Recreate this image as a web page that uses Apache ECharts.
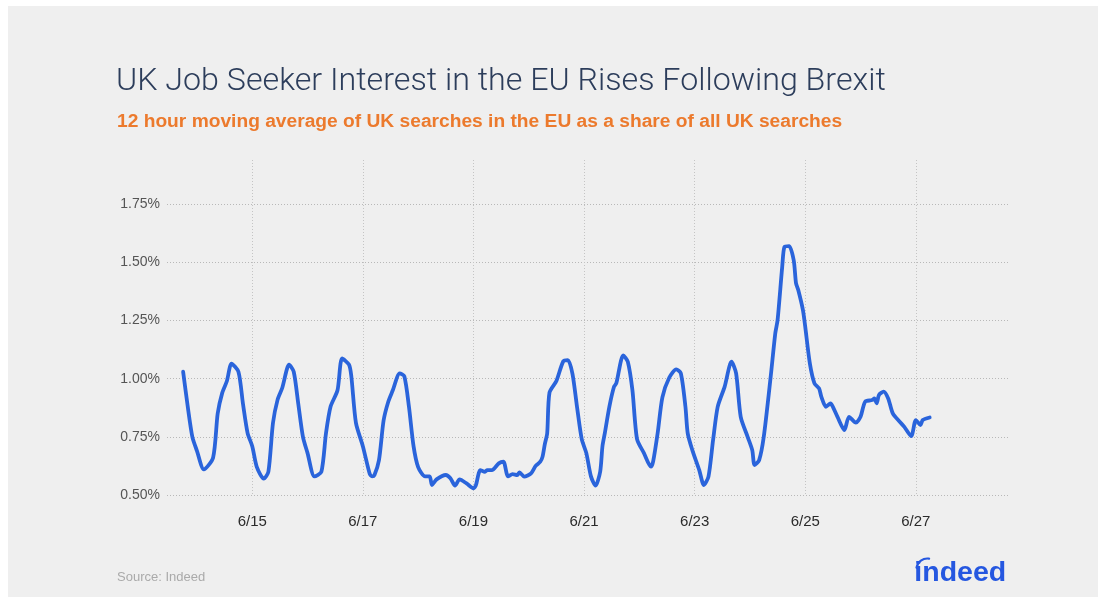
<!DOCTYPE html>
<html>
<head>
<meta charset="utf-8">
<title>UK Job Seeker Interest in the EU Rises Following Brexit</title>
<script src="https://cdn.jsdelivr.net/npm/echarts@6/dist/echarts.min.js"></script>
<style>
  html, body { margin: 0; padding: 0; background: #ffffff; }
  #chart { width: 1106px; height: 605px; }
</style>
</head>
<body>
<div id="chart"></div>
<script>
// Hours elapsed since 13 June 2016, 00:00
const hours = [
  18, 20, 22, 24, 27, 31, 33, 35, 37, 39, 42, 44, 46, 48, 50, 53, 55, 57, 59, 61,
  64, 66, 68, 70, 72, 75, 78, 80, 82, 85, 87, 90, 91, 93, 96, 99, 100, 101, 103, 105,
  107, 109, 112, 114, 116, 118, 120, 123, 125, 126, 128, 132, 134, 136, 138, 141, 144, 145, 147, 149,
  150, 152, 155, 157, 159, 161, 163, 164, 166, 169, 171, 173, 174, 175, 176, 177, 180, 183, 185, 187,
  189, 191, 193, 195, 197, 199, 200, 201, 203, 205, 206, 209, 211, 213, 215, 218, 221, 222, 224, 226,
  229, 232, 234, 236, 237, 239, 242, 244, 246, 248, 250, 253, 256, 258, 260, 263, 265, 266, 268, 270,
  273, 275, 276, 278, 279, 281, 283, 284, 285, 287, 288, 290, 292, 294, 295, 297, 299, 300, 302, 305,
  307, 310, 312, 314, 317, 318, 319, 320, 322, 324, 326, 329, 331, 334, 336, 338, 339, 342
];

// 12 hour moving average of UK searches in the EU, % of all UK searches
const euShare = [
  1.03, 0.88, 0.75, 0.69, 0.61, 0.66, 0.85, 0.94, 0.99, 1.065, 1.03, 0.89, 0.765, 0.71, 0.62, 0.57, 0.60, 0.81, 0.91, 0.96,
  1.06, 1.03, 0.89, 0.75, 0.68, 0.58, 0.60, 0.765, 0.88, 0.95, 1.087, 1.06, 1.01, 0.81, 0.71, 0.59, 0.58, 0.585, 0.65, 0.82,
  0.90, 0.95, 1.023, 1.01, 0.88, 0.71, 0.62, 0.58, 0.58, 0.543, 0.567, 0.586, 0.572, 0.540, 0.567, 0.550, 0.529, 0.54, 0.607, 0.60,
  0.607, 0.607, 0.636, 0.643, 0.58, 0.59, 0.586, 0.597, 0.579, 0.593, 0.625, 0.643, 0.665, 0.72, 0.765, 0.94, 0.99, 1.075, 1.08, 1.02,
  0.875, 0.74, 0.68, 0.58, 0.54, 0.60, 0.71, 0.765, 0.88, 0.965, 0.98, 1.10, 1.073, 0.95, 0.74, 0.68, 0.622, 0.645, 0.77, 0.92,
  1.005, 1.04, 1.023, 0.88, 0.765, 0.693, 0.607, 0.543, 0.579, 0.736, 0.879, 0.965, 1.073, 1.023, 0.836, 0.75, 0.693, 0.629, 0.65, 0.75,
  1.008, 1.195, 1.252, 1.48, 1.567, 1.57, 1.509, 1.41, 1.38, 1.295, 1.223, 1.066, 0.98, 0.958, 0.922, 0.879, 0.894, 0.879, 0.836, 0.779,
  0.836, 0.811, 0.836, 0.901, 0.908, 0.915, 0.894, 0.93, 0.944, 0.915, 0.851, 0.815, 0.793, 0.753, 0.822, 0.801, 0.822, 0.833
];

// Date ticks (midnight of each labelled day) and share ticks
const dateTicks = [48, 96, 144, 192, 240, 288, 336];
const dateTickLabels = ['6/15', '6/17', '6/19', '6/21', '6/23', '6/25', '6/27'];
const shareTicks = [0.5, 0.75, 1.0, 1.25, 1.5, 1.75];

const titleText = 'UK Job Seeker Interest in the EU Rises Following Brexit';
const subtitleText = '12 hour moving average of UK searches in the EU as a share of all UK searches';
const sourceText = 'Source: Indeed';

const seriesData = hours.map((h, i) => [h, euShare[i]]);

const chart = echarts.init(document.getElementById('chart'), null, { renderer: 'canvas' });

chart.setOption({
  animation: false,
  backgroundColor: '#ffffff',
  textStyle: { fontFamily: 'Liberation Sans, Arial, sans-serif' },
  graphic: [
    {
      type: 'rect', z: -10, silent: true,
      shape: { x: 8, y: 6, width: 1090, height: 591 },
      style: { fill: '#efefef' }
    },
    {
      type: 'text', left: 116, top: 66,
      style: {
        text: titleText, fill: '#2c3d5b',
        font: '300 32.2px Roboto, "Liberation Sans", sans-serif'
      }
    },
    {
      type: 'text', left: 117, top: 112,
      style: {
        text: subtitleText, fill: '#ec7a2d',
        font: 'bold 19.2px "Liberation Sans", Arial, sans-serif'
      }
    },
    {
      type: 'text', left: 117, top: 571,
      style: {
        text: sourceText, fill: '#aaaaaa',
        font: '13px "Liberation Sans", Arial, sans-serif'
      }
    },
    {
      type: 'group', left: 914, top: 556,
      children: [
        {
          type: 'text', x: 0, y: 2,
          style: {
            text: 'indeed', fill: '#2557e0',
            font: 'bold 28.5px "Liberation Sans", Arial, sans-serif'
          }
        },
        {
          type: 'arc',
          shape: { cx: 13, cy: 13, r: 11, startAngle: Math.PI * 1.05, endAngle: Math.PI * 1.55 },
          style: { stroke: '#2557e0', lineWidth: 2.2, fill: null, lineCap: 'round' }
        }
      ]
    }
  ],
  grid: { left: 167, right: 98, top: 160, bottom: 110 },
  xAxis: {
    type: 'value',
    min: 11,
    max: 376,
    axisLine: { show: false },
    axisTick: { show: false, customValues: dateTicks },
    axisLabel: {
      customValues: dateTicks,
      formatter: (v) => dateTickLabels[dateTicks.indexOf(v)] || '',
      color: '#2b2b2b',
      fontSize: 15,
      margin: 19
    },
    splitLine: {
      show: true,
      lineStyle: { color: '#c4c4c4', type: [1, 2], width: 1 }
    }
  },
  yAxis: {
    type: 'value',
    min: 0.5,
    max: 1.94,
    axisLine: { show: false },
    axisTick: { show: false, customValues: shareTicks },
    axisLabel: {
      customValues: shareTicks,
      formatter: (v) => v.toFixed(2) + '%',
      color: '#555555',
      fontSize: 14,
      margin: 7
    },
    splitLine: {
      show: true,
      lineStyle: { color: '#b8b8b8', type: [1, 2], width: 1 }
    }
  },
  series: [
    {
      type: 'line',
      data: seriesData,
      showSymbol: false,
      symbol: 'none',
      smooth: 0.25,
      lineStyle: { color: '#2a64db', width: 3.8, cap: 'round', join: 'round' },
      z: 5
    }
  ]
});
</script>
</body>
</html>
